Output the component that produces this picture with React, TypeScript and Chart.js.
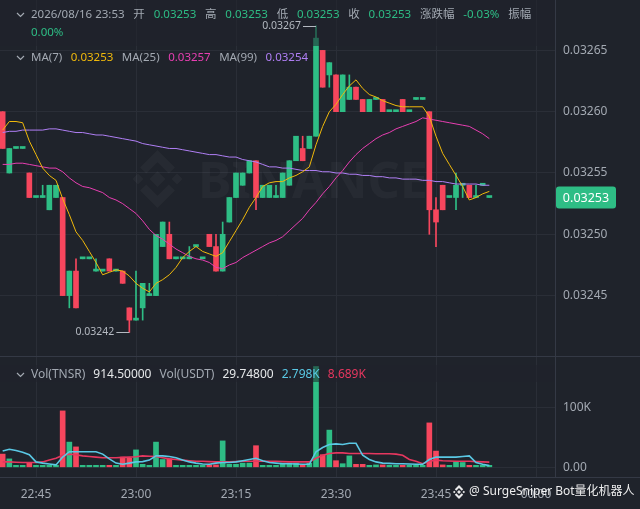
import React, { useEffect, useRef } from 'react';
import { Chart, registerables } from 'chart.js';

Chart.register(...registerables);

// ---------------- DATA ----------------
// 1-minute candles, index 0 = 22:40
const opens = [
  0.0326, 0.03255, 0.03257, 0.03257, 0.03255, 0.03253, 0.03253, 0.03252, 0.03253, 0.03253,
  0.03245, 0.03247, 0.03248, 0.03248, 0.03247, 0.03247, 0.03248, 0.03247, 0.03247, 0.03244,
  0.03243, 0.03244, 0.03245, 0.03245, 0.03249, 0.0325, 0.03248, 0.03248, 0.03248, 0.03249,
  0.03248, 0.0325, 0.03249, 0.03247, 0.03251, 0.03253, 0.03254, 0.03255, 0.03256, 0.03253,
  0.03253, 0.03253, 0.03253, 0.03254, 0.03256, 0.03257, 0.03257, 0.03258, 0.03265, 0.03263,
  0.03263, 0.0326, 0.03261, 0.03262, 0.03261, 0.0326, 0.03261, 0.03261, 0.0326, 0.0326,
  0.03261, 0.0326, 0.03261, 0.03261, 0.0326, 0.03252, 0.03254, 0.03253, 0.03253, 0.03254,
  0.03254, 0.03253, 0.03254, 0.03253,
];
const highs = [
  0.0326, 0.03257, 0.03257, 0.03257, 0.03255, 0.03253, 0.03254, 0.03254, 0.03254, 0.03253,
  0.03247, 0.03248, 0.03248, 0.03248, 0.03248, 0.03247, 0.03248, 0.03247, 0.03247, 0.03244,
  0.03247, 0.03246, 0.03246, 0.0325, 0.03251, 0.03251, 0.03248, 0.03248, 0.03249, 0.03249,
  0.03248, 0.0325, 0.0325, 0.03251, 0.03253, 0.03255, 0.03255, 0.03256, 0.03256, 0.03254,
  0.03254, 0.03254, 0.03255, 0.03256, 0.03258, 0.03258, 0.03258, 0.03267, 0.03265, 0.03264,
  0.03263, 0.03263, 0.03263, 0.03262, 0.03261, 0.03261, 0.03261, 0.03261, 0.0326, 0.0326,
  0.03261, 0.0326, 0.03261, 0.03261, 0.0326, 0.03253, 0.03254, 0.03253, 0.03255, 0.03254,
  0.03254, 0.03254, 0.03254, 0.03253,
];
const lows = [
  0.03257, 0.03255, 0.03257, 0.03257, 0.03253, 0.03253, 0.03253, 0.03252, 0.03253, 0.03245,
  0.03244, 0.03244, 0.03248, 0.03248, 0.03247, 0.03247, 0.03247, 0.03247, 0.03246, 0.03242,
  0.03243, 0.03243, 0.03245, 0.03245, 0.03249, 0.03248, 0.03248, 0.03248, 0.03248, 0.03249,
  0.03248, 0.03249, 0.03247, 0.03247, 0.03251, 0.03253, 0.03254, 0.03255, 0.03252, 0.03253,
  0.03253, 0.03253, 0.03253, 0.03254, 0.03256, 0.03256, 0.03257, 0.03258, 0.03262, 0.03262,
  0.0326, 0.0326, 0.03261, 0.03261, 0.0326, 0.0326, 0.03261, 0.0326, 0.0326, 0.0326,
  0.0326, 0.0326, 0.03261, 0.03261, 0.0325, 0.03249, 0.03252, 0.03253, 0.03252, 0.03253,
  0.03253, 0.03253, 0.03254, 0.03253,
];
const closes = [
  0.03257, 0.03257, 0.03257, 0.03257, 0.03253, 0.03253, 0.03253, 0.03254, 0.03254, 0.03245,
  0.03247, 0.03244, 0.03248, 0.03248, 0.03247, 0.03247, 0.03247, 0.03247, 0.03246, 0.03243,
  0.03243, 0.03246, 0.03245, 0.0325, 0.03251, 0.03248, 0.03248, 0.03248, 0.03248, 0.03249,
  0.03248, 0.03249, 0.03247, 0.0325, 0.03253, 0.03255, 0.03255, 0.03256, 0.03253, 0.03254,
  0.03254, 0.03253, 0.03255, 0.03256, 0.03258, 0.03256, 0.03258, 0.03266, 0.03262, 0.03264,
  0.0326, 0.03263, 0.03262, 0.03261, 0.0326, 0.03261, 0.03261, 0.0326, 0.0326, 0.0326,
  0.0326, 0.0326, 0.03261, 0.03261, 0.03252, 0.03251, 0.03252, 0.03253, 0.03254, 0.03254,
  0.03253, 0.03253, 0.03254, 0.03253,
];
const ma7 = [
  0.032585, 0.032592, 0.032592, 0.032591, 0.032576, 0.032565, 0.032554, 0.032548, 0.032544, 0.032529,
  0.032516, 0.032502, 0.032495, 0.032486, 0.032477, 0.032467, 0.032469, 0.032471, 0.03247, 0.032466,
  0.03246, 0.032456, 0.032453, 0.03246, 0.032463, 0.032467, 0.032473, 0.032481, 0.032486, 0.03249,
  0.032486, 0.032484, 0.032482, 0.032485, 0.032494, 0.032503, 0.032512, 0.032522, 0.03253, 0.032539,
  0.032542, 0.032543, 0.032543, 0.032546, 0.032548, 0.032551, 0.032555, 0.032573, 0.032588, 0.0326,
  0.032606, 0.032614, 0.032621, 0.032626, 0.032619, 0.032614, 0.032612, 0.032609, 0.032607, 0.032605,
  0.032604, 0.032604, 0.032604, 0.032604, 0.032596, 0.03258, 0.032566, 0.032557, 0.032548, 0.032539,
  0.032528, 0.03253, 0.032533, 0.032535,
];
const ma25 = [
  0.032557, 0.032557, 0.032558, 0.032558, 0.032557, 0.032556, 0.032555, 0.032554, 0.032554, 0.032551,
  0.032546, 0.032542, 0.032539, 0.032538, 0.032536, 0.032534, 0.03253, 0.032528, 0.032525, 0.032521,
  0.032517, 0.032511, 0.032504, 0.032499, 0.032496, 0.032492, 0.032488, 0.032485, 0.032482, 0.03248,
  0.032479, 0.032477, 0.032473, 0.032472, 0.032475, 0.032477, 0.032481, 0.032484, 0.032487, 0.03249,
  0.032493, 0.032495, 0.032498, 0.032503, 0.032508, 0.032513, 0.03252, 0.032526, 0.032533, 0.032539,
  0.032546, 0.032552, 0.032559, 0.032565, 0.03257, 0.032574, 0.032578, 0.032581, 0.032583, 0.032586,
  0.032588, 0.03259, 0.032592, 0.032595, 0.032594, 0.032593, 0.032592, 0.032591, 0.03259, 0.032589,
  0.032588, 0.032585, 0.032582, 0.032578,
];
const ma99 = [
  0.032583, 0.032584, 0.032584, 0.032585, 0.032585, 0.032585, 0.032585, 0.032586, 0.032586, 0.032585,
  0.032584, 0.032583, 0.032583, 0.032582, 0.032581, 0.032581, 0.03258, 0.032579, 0.032578, 0.032577,
  0.032576, 0.032574, 0.032573, 0.032572, 0.032571, 0.03257, 0.03257, 0.032569, 0.032568, 0.032567,
  0.032566, 0.032565, 0.032565, 0.032564, 0.032563, 0.032563, 0.032561, 0.03256, 0.032559, 0.032557,
  0.032555, 0.032555, 0.032554, 0.032554, 0.032553, 0.032552, 0.032552, 0.032552, 0.032551, 0.032551,
  0.03255, 0.03255, 0.032549, 0.032549, 0.032548, 0.032548, 0.032547, 0.032547, 0.032546, 0.032546,
  0.032545, 0.032545, 0.032545, 0.032544, 0.032544, 0.032543, 0.032543, 0.032542, 0.032541, 0.032541,
  0.032541, 0.032541, 0.03254, 0.03254,
];
const volumes = [
  22000, 14000, 1500, 1500, 8000, 1500, 1500, 3000, 3000, 94000,
  42000, 34000, 1500, 1500, 1500, 1500, 2000, 1500, 17000, 15000,
  29000, 5000, 2000, 42000, 13000, 14000, 1500, 1500, 2000, 1500,
  1500, 4000, 4000, 44000, 5000, 5000, 7000, 7000, 36000, 2000,
  2000, 1500, 7000, 7000, 7000, 4000, 7000, 168000, 21000, 62000,
  11000, 6000, 19000, 5000, 5000, 2000, 4000, 4000, 2000, 2000,
  2000, 2000, 2000, 2000, 74000, 27000, 4000, 2000, 9000, 8000,
  3000, 2000, 2000, 914.5,
];
const volMa5 = [
  27000, 30000, 28000, 25000, 21000, 9000, 7000, 5500, 4000, 17000,
  26000, 26000, 26000, 26000, 26000, 22000, 14000, 7000, 5000, 7000,
  9000, 9500, 12000, 19000, 19000, 18000, 16000, 12000, 9000, 7000,
  5500, 5000, 7000, 8000, 8000, 9000, 11000, 13000, 15000, 11000,
  8000, 7000, 6000, 6000, 5500, 5000, 5000, 26000, 33000, 38000,
  39000, 38000, 40000, 40000, 20000, 13000, 9000, 7000, 6500, 6000,
  6000, 5500, 5000, 5000, 13000, 17000, 17000, 17000, 17000, 18000,
  19000, 8000, 5000, 2798,
];
const volMa10 = [
  9000, 9000, 8500, 8000, 8000, 8000, 9000, 12000, 15000, 20000,
  22000, 21000, 19000, 18000, 17000, 16000, 16000, 16000, 16500, 17000,
  17500, 19000, 18500, 18000, 16000, 14000, 13000, 12000, 11000, 10000,
  10000, 9500, 9000, 9000, 9000, 9500, 10000, 10000, 10000, 10000,
  10000, 10000, 9500, 9000, 9000, 9000, 9000, 15000, 20000, 23000,
  24000, 24000, 23000, 23000, 23000, 23000, 22500, 22500, 22500, 22000,
  20000, 13000, 10000, 6000, 10000, 12000, 11000, 10500, 10000, 10000,
  10000, 9500, 9000, 8689,
];
const xTickIndex = [5, 20, 35, 50, 65, 80];
const xTickLabels = ['22:45', '23:00', '23:15', '23:30', '23:45', '00:00'];
const priceTicks = [0.03245, 0.0325, 0.03255, 0.0326, 0.03265];
const volTicks = [0, 100000];
const volTickLabels = ['0.00', '100K'];

// ---------------- STYLE ----------------
const BG = '#1f232b';
const GRID = '#2a2e37';
const AXIS = '#343945';
const TEXT = '#a3a9b2';
const WHITE = '#e6e8ea';
const GREEN = '#2ebd85';
const RED = '#f6465d';
const YELLOW = '#f0b90b';
const PINK = '#e83fb2';
const PURPLE = '#b07ff5';
const CYAN = '#5ac8e4';
const VRED = '#e6375f';
const FONT = '"Noto Sans", "Noto Sans CJK SC", sans-serif';
const HFONT = `11.5px ${FONT}`;

const X_MIN = -0.4;
const X_MAX = 82.85;
const P_MIN = 0.03240073;
const P_MAX = 0.03269111;
const V_MIN = -16167;
const V_MAX = 185500;

Chart.defaults.font.family = FONT;

const idx = closes.map((_, i) => i);
const candleColors = idx.map((i) => (closes[i] >= opens[i] ? GREEN : RED));

function chevron(ctx: CanvasRenderingContext2D, x: number, y: number) {
  ctx.save();
  ctx.strokeStyle = TEXT;
  ctx.lineWidth = 1.2;
  ctx.beginPath();
  ctx.moveTo(x, y - 2);
  ctx.lineTo(x + 3.5, y + 1.5);
  ctx.lineTo(x + 7, y - 2);
  ctx.stroke();
  ctx.restore();
}

function drawRow(ctx: CanvasRenderingContext2D, items: [string, string][], x: number, y: number, gap: number) {
  let cx = x;
  ctx.textAlign = 'left';
  ctx.textBaseline = 'middle';
  for (const [t, c] of items) {
    ctx.fillStyle = c;
    ctx.fillText(t, cx, y);
    cx += ctx.measureText(t).width + gap;
  }
  return cx;
}

function drawLogo(ctx: CanvasRenderingContext2D, cx: number, cy: number, r: number, color: string) {
  const u = r / 4;
  ctx.save();
  ctx.fillStyle = color;
  const diamond = (x: number, y: number, h: number) => {
    ctx.beginPath();
    ctx.moveTo(x, y - h);
    ctx.lineTo(x + h, y);
    ctx.lineTo(x, y + h);
    ctx.lineTo(x - h, y);
    ctx.closePath();
    ctx.fill();
  };
  diamond(cx, cy, u * 1.1);
  diamond(cx - u * 2.7, cy, u * 0.75);
  diamond(cx + u * 2.7, cy, u * 0.75);
  for (const s of [-1, 1]) {
    ctx.beginPath();
    ctx.moveTo(cx, cy + s * 4 * u);
    ctx.lineTo(cx + 2.4 * u, cy + s * 1.6 * u);
    ctx.lineTo(cx + 1.55 * u, cy + s * 0.75 * u);
    ctx.lineTo(cx, cy + s * 2.3 * u);
    ctx.lineTo(cx - 1.55 * u, cy + s * 0.75 * u);
    ctx.lineTo(cx - 2.4 * u, cy + s * 1.6 * u);
    ctx.closePath();
    ctx.fill();
  }
  ctx.restore();
}

const pricePanePlugin = {
  id: 'pricePane',
  beforeDatasetsDraw(chart: any) {
    const ctx: CanvasRenderingContext2D = chart.ctx;
    ctx.save();
    drawLogo(ctx, 157.5, 179, 29, 'rgba(255,255,255,0.035)');
    ctx.fillStyle = 'rgba(255,255,255,0.035)';
    ctx.font = `bold 50px ${FONT}`;
    ctx.textBaseline = 'alphabetic';
    const w = ctx.measureText('BINANCE').width;
    ctx.translate(198, 198);
    ctx.scale(230 / w, 1);
    ctx.fillText('BINANCE', 0, 0);
    ctx.restore();
  },
  afterDatasetsDraw(chart: any) {
    const ctx: CanvasRenderingContext2D = chart.ctx;
    const xs = chart.scales.x;
    const ys = chart.scales.y;
    ctx.save();
    // legend backdrop
    ctx.fillStyle = 'rgba(31,35,43,0.55)';
    ctx.fillRect(0, 0, 555, 46);

    ctx.font = HFONT;
    chevron(ctx, 17, 15);
    drawRow(
      ctx,
      [
        ['2026/08/16 23:53', TEXT], ['开', TEXT], ['0.03253', GREEN], ['高', TEXT], ['0.03253', GREEN],
        ['低', TEXT], ['0.03253', GREEN], ['收', TEXT], ['0.03253', GREEN], ['涨跌幅', TEXT],
        ['-0.03%', GREEN], ['振幅', TEXT],
      ],
      31, 15, 8.8,
    );
    drawRow(ctx, [['0.00%', GREEN]], 31, 33, 8.5);
    chevron(ctx, 17, 58);
    drawRow(
      ctx,
      [['MA(7)', TEXT], ['0.03253', YELLOW], ['MA(25)', TEXT], ['0.03257', PINK], ['MA(99)', TEXT], ['0.03254', PURPLE]],
      31, 58, 8.5,
    );

    // high / low markers
    let hi = 0;
    let lo = 0;
    idx.forEach((i) => {
      if (highs[i] > highs[hi]) hi = i;
      if (lows[i] < lows[lo]) lo = i;
    });
    const marker = (i: number, v: number) => {
      const px = xs.getPixelForValue(i);
      const py = Math.round(ys.getPixelForValue(v)) + 0.5;
      ctx.strokeStyle = '#b4b9c1';
      ctx.lineWidth = 1;
      ctx.beginPath();
      ctx.moveTo(px - 13, py);
      ctx.lineTo(px, py);
      ctx.stroke();
      ctx.fillStyle = '#b4b9c1';
      ctx.font = `10.5px ${FONT}`;
      ctx.textAlign = 'right';
      ctx.textBaseline = 'middle';
      ctx.fillText(v.toFixed(5), px - 15, py);
    };
    marker(hi, highs[hi]);
    marker(lo, lows[lo]);

    // last price tag
    const last = closes[closes.length - 1];
    const ty = ys.getPixelForValue(last);
    ctx.fillStyle = GREEN;
    ctx.beginPath();
    (ctx as any).roundRect(556, ty - 11, 60, 22, 3);
    ctx.fill();
    ctx.fillStyle = '#ffffff';
    ctx.font = `12.5px ${FONT}`;
    ctx.textAlign = 'center';
    ctx.textBaseline = 'middle';
    ctx.fillText(last.toFixed(5), 586, ty + 0.5);
    ctx.restore();
  },
};

const volPanePlugin = {
  id: 'volPane',
  afterDatasetsDraw(chart: any) {
    const ctx: CanvasRenderingContext2D = chart.ctx;
    ctx.save();
    ctx.fillStyle = 'rgba(31,35,43,0.55)';
    ctx.fillRect(0, 9, 555, 17);
    ctx.font = `12px ${FONT}`;
    chevron(ctx, 17, 19);
    drawRow(
      ctx,
      [
        ['Vol(TNSR)', TEXT], ['914.50000', WHITE], ['Vol(USDT)', TEXT], ['29.74800', WHITE],
        ['2.798K', CYAN], ['8.689K', VRED],
      ],
      31, 19, 8,
    );
    ctx.restore();
  },
  afterDraw(chart: any) {
    const ctx: CanvasRenderingContext2D = chart.ctx;
    const area = chart.chartArea;
    ctx.save();
    ctx.strokeStyle = AXIS;
    ctx.lineWidth = 1;
    ctx.beginPath();
    ctx.moveTo(0, 0.5);
    ctx.lineTo(640, 0.5);
    ctx.moveTo(0, Math.round(area.bottom) + 0.5);
    ctx.lineTo(640, Math.round(area.bottom) + 0.5);
    ctx.stroke();
    // watermark
    drawLogo(ctx, 459, 136, 7, 'rgba(255,255,255,0.9)');
    ctx.fillStyle = 'rgba(255,255,255,0.92)';
    ctx.font = `12px ${FONT}`;
    ctx.textAlign = 'left';
    ctx.textBaseline = 'middle';
    ctx.fillText('@ SurgeSniper Bot量化机器人', 469, 136);
    ctx.restore();
  },
};

const xScale = (showLabels: boolean) => ({
  type: 'linear',
  min: X_MIN,
  max: X_MAX,
  offset: false,
  afterBuildTicks: (s: any) => {
    s.ticks = xTickIndex.map((v) => ({ value: v }));
  },
  afterFit: (s: any) => {
    s.height = showLabels ? 32 : 0;
    s.paddingLeft = 0;
    s.paddingRight = 0;
    s.paddingTop = 0;
    s.paddingBottom = 0;
  },
  grid: { color: GRID, drawTicks: false, offset: false },
  border: { display: false },
  ticks: {
    display: showLabels,
    color: TEXT,
    font: { size: 12, family: FONT },
    padding: 10,
    maxRotation: 0,
    autoSkip: false,
    callback: (v: any) => {
      const k = xTickIndex.indexOf(Number(v));
      return k >= 0 ? xTickLabels[k] : '';
    },
  },
});

const yFit = (s: any) => {
  s.width = 85;
  s.paddingTop = 0;
  s.paddingBottom = 0;
  s.paddingLeft = 0;
  s.paddingRight = 0;
};

export default function App() {
  const priceRef = useRef<HTMLCanvasElement | null>(null);
  const volRef = useRef<HTMLCanvasElement | null>(null);

  useEffect(() => {
    if (!priceRef.current || !volRef.current) return;
    const line = (data: number[], color: string, width: number) => ({
      type: 'line',
      data: idx.map((i) => ({ x: i, y: data[i] })),
      borderColor: color,
      borderWidth: width,
      pointRadius: 0,
      tension: 0,
      order: 0,
    });

    const priceChart = new Chart(priceRef.current, {
      type: 'bar',
      data: {
        datasets: [
          line(ma7, YELLOW, 1) as any,
          line(ma25, PINK, 1) as any,
          line(ma99, PURPLE, 1) as any,
          {
            type: 'bar',
            data: idx.map((i) => ({ x: i, y: [opens[i], closes[i]] })) as any,
            backgroundColor: candleColors,
            barThickness: 5,
            minBarLength: 2,
            grouped: false,
            borderWidth: 0,
            order: 1,
          },
          {
            type: 'bar',
            data: idx.map((i) => ({ x: i, y: [lows[i], highs[i]] })) as any,
            backgroundColor: candleColors,
            barThickness: 1,
            grouped: false,
            borderWidth: 0,
            order: 2,
          },
        ],
      },
      options: {
        animation: false,
        responsive: false,
        events: [],
        layout: { padding: 0 },
        plugins: { legend: { display: false }, tooltip: { enabled: false } },
        scales: {
          x: xScale(false) as any,
          y: {
            type: 'linear',
            position: 'right',
            min: P_MIN,
            max: P_MAX,
            afterBuildTicks: (s: any) => {
              s.ticks = priceTicks.map((v) => ({ value: v }));
            },
            afterFit: yFit,
            grid: { color: GRID, drawTicks: false },
            border: { display: true, color: AXIS },
            ticks: {
              color: TEXT,
              padding: 8,
              font: { size: 12, family: FONT },
              callback: (v: any) => Number(v).toFixed(5),
            },
          } as any,
        },
      },
      plugins: [pricePanePlugin as any],
    });

    const volChart = new Chart(volRef.current, {
      type: 'bar',
      data: {
        datasets: [
          line(volMa5, CYAN, 1.6) as any,
          line(volMa10, VRED, 1.6) as any,
          {
            type: 'bar',
            data: idx.map((i) => ({ x: i, y: volumes[i] })) as any,
            backgroundColor: candleColors,
            barThickness: 5,
            minBarLength: 2,
            grouped: false,
            borderWidth: 0,
            order: 1,
          },
        ],
      },
      options: {
        animation: false,
        responsive: false,
        events: [],
        layout: { padding: 0 },
        plugins: { legend: { display: false }, tooltip: { enabled: false } },
        scales: {
          x: xScale(true) as any,
          y: {
            type: 'linear',
            position: 'right',
            min: V_MIN,
            max: V_MAX,
            afterBuildTicks: (s: any) => {
              s.ticks = volTicks.map((v) => ({ value: v }));
            },
            afterFit: yFit,
            grid: { color: GRID, drawTicks: false },
            border: { display: true, color: AXIS },
            ticks: {
              color: TEXT,
              padding: 8,
              font: { size: 12, family: FONT },
              callback: (v: any) => {
                const k = volTicks.indexOf(Number(v));
                return k >= 0 ? volTickLabels[k] : '';
              },
            },
          } as any,
        },
      },
      plugins: [volPanePlugin as any],
    });

    return () => {
      priceChart.destroy();
      volChart.destroy();
    };
  }, []);

  return (
    <div style={{ position: 'fixed', left: 0, top: 0, width: 640, height: 509, background: BG, overflow: 'hidden' }}>
      <canvas ref={priceRef} width={640} height={356} style={{ display: 'block', width: 640, height: 356 }} />
      <canvas ref={volRef} width={640} height={153} style={{ display: 'block', width: 640, height: 153 }} />
    </div>
  );
}
